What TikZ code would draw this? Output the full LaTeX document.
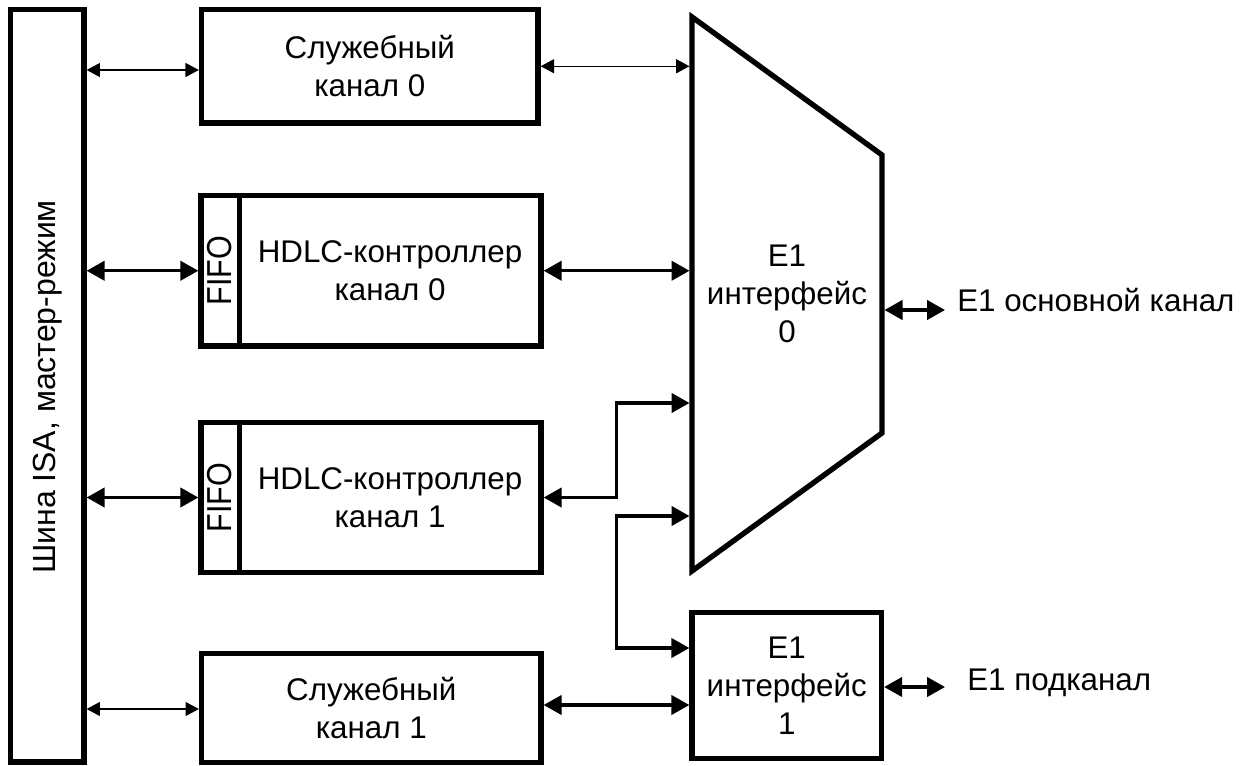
\documentclass[tikz,border=0pt]{standalone}
\usepackage{fontspec}
\setmainfont{Liberation Sans}
\newfontfamily\rotfont{Liberation Sans}
\newfontfamily\fifofont{Liberation Sans}[FakeStretch=0.88]
\usetikzlibrary{arrows.meta}
\begin{document}
\begin{tikzpicture}[x=0.75pt,y=-0.75pt,
  blk/.style={draw, line width=4pt, inner sep=0pt},
  txt/.style={font=\fontsize{23.5}{28.5}\selectfont, align=center},
  thk/.style={line width=2.4pt, >={Triangle[length=13.5pt,width=14.5pt]}, <->},
  thn/.style={line width=0.8pt, >={Triangle[length=10pt,width=10.5pt]}, <->}]
\fill[white] (0,0) rectangle (1248,766);
\useasboundingbox (0,0) rectangle (1248,766);

% ISA bus
\node[blk, minimum width=55.1pt, minimum height=564.4pt] (bus) at (47.25,385.75) {};
\node[rotate=90, font=\rotfont\fontsize{24}{28}\selectfont] (bustxt) at (47.25,387) {Шина ISA, мастер-режим};

% service channel 0
\node[blk, txt, minimum width=252.4pt, minimum height=85.1pt] (s0) at (369.75,66.25) {Служебный\\канал 0};

% HDLC 0
\node[blk, minimum width=255pt, minimum height=112.9pt] (h0) at (371,270.75) {};
\coordinate (fx) at (239.5,0);
\draw[line width=4pt] (h0.north -| fx) -- (h0.south -| fx);
\node[rotate=90, font=\fifofont\fontsize{26}{28}\selectfont] (fifo0) at (220,270.75) {FIFO};
\node[txt] (h0t) at (390,270.75) {HDLC-контроллер\\канал 0};

% HDLC 1
\node[blk, minimum width=255pt, minimum height=112.5pt] (h1) at (371,497.5) {};
\draw[line width=4pt] (h1.north -| fx) -- (h1.south -| fx);
\node[rotate=90, font=\fifofont\fontsize{26}{28}\selectfont] (fifo1) at (220,497.5) {FIFO};
\node[txt] (h1t) at (390,497.5) {HDLC-контроллер\\канал 1};

% service channel 1
\node[blk, txt, minimum width=254.6pt, minimum height=81.75pt] (s1) at (371.25,708) {Служебный\\канал 1};

% E1 interface 0 (trapezoid)
\coordinate (tA) at (692,17);
\coordinate (tB) at (882,155);
\coordinate (tC) at (882,433);
\coordinate (tD) at (692,571);
\draw[line width=4pt, line join=miter] (tA) -- (tB) -- (tC) -- (tD) -- cycle;
\node[txt] (e10) at (787,294) {E1\\интерфейс\\0};

% E1 interface 1
\node[blk, txt, minimum width=142.1pt, minimum height=109.5pt] (e11) at (786.75,685.5) {E1\\интерфейс\\1};

% outer labels
\node[txt, anchor=base west, inner xsep=9pt, inner ysep=0pt] (o0) at (945,312) {E1 основной канал};
\node[txt, anchor=base west, inner xsep=16.5pt, inner ysep=0pt] (o1) at (945,690) {E1 подканал};

% helper coordinates
\coordinate (tl) at (689.5,0);
\coordinate (tIn1) at (689.5,403);
\coordinate (tIn2) at (689.5,516);
\coordinate (jx) at (616.7,0);
\coordinate (tr) at (884.5,310);
\coordinate (c70) at (0,70);
\coordinate (c648) at (0,648);
\coordinate (c705) at (0,705);
\coordinate (c709) at (0,709);
\coordinate (c687) at (0,687);

% connectors
\draw[thn] (bus.east |- c70) -- (s0.west |- c70);
\draw[thn] (s0.east) -- (s0.east -| tl);
\draw[thk] (bus.east |- h0.west) -- (h0.west);
\draw[thk] (h0.east) -- (h0.east -| tl);
\draw[thk] (bus.east |- h1.west) -- (h1.west);
\draw[thk] (h1.east) -| (jx |- tIn1) -- (tIn1);
\draw[thk] (tIn2) -- (jx |- tIn2) |- (e11.west |- c648);
\draw[thk] (s1.east |- c705) -- (e11.west |- c705);
\draw[thn] (bus.east |- c709) -- (s1.west |- c709);
\draw[thk] (tr) -- (tr -| o0.west);
\draw[thk] (e11.east |- c687) -- (o1.west |- c687);
\end{tikzpicture}
\end{document}
